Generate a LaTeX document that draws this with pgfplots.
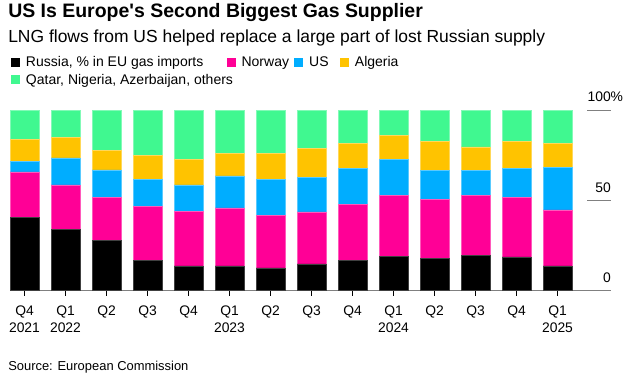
\documentclass[border=0pt]{standalone}
\usepackage{fontspec}
\setmainfont{Liberation Sans}[Ligatures=TeXOff]
\usepackage{pgfplots}
\usepackage{pgfplotstable}
\pgfplotsset{compat=1.18}
\definecolor{cRus}{HTML}{000000}
\definecolor{cNor}{HTML}{FF0096}
\definecolor{cUS}{HTML}{00ADFF}
\definecolor{cAlg}{HTML}{FFC300}
\definecolor{cOth}{HTML}{40F890}
\definecolor{axgray}{HTML}{808080}

\pgfplotstableread{
x rus nor us alg oth
0 40.8 25.1 5.9 12.0 16.2
1 33.8 24.9 14.9 11.3 15.1
2 27.7 24.1 15.2 10.9 22.1
3 16.8 30.1 14.9 13.1 25.1
4 13.8 30.1 14.8 14.0 27.3
5 13.8 32.1 17.8 12.3 24.0
6 12.7 29.0 20.1 14.2 24.0
7 14.9 28.8 19.0 16.1 21.2
8 16.8 31.0 19.9 14.0 18.3
9 19.0 33.8 19.9 13.3 14.0
10 17.7 33.0 16.1 15.9 17.3
11 19.7 33.1 14.0 12.9 20.3
12 18.8 32.9 16.0 15.0 17.3
13 13.8 31.0 23.8 13.1 18.3
}\datatable

\begin{document}
\begin{tikzpicture}
\useasboundingbox (0,0) rectangle (473.25pt,283.5pt);
% Title and subtitle
\node[anchor=base west, inner sep=0] at (6pt,270.5pt) {\fontsize{14.6}{17}\selectfont\bfseries US Is Europe's Second Biggest Gas Supplier};
\node[anchor=base west, inner sep=0] at (6pt,251.8pt) {\fontsize{13.1}{15}\selectfont LNG flows from US helped replace a large part of lost Russian supply};
% Legend
\def\legfont{\fontsize{10.5}{12}\selectfont}
\fill[cRus] (8.25pt,233.6pt) rectangle ++(6.75pt,6.75pt);
\node[anchor=base west, inner sep=0] at (19.3pt,233.5pt) {\legfont Russia, \% in EU gas imports};
\fill[cNor] (170pt,233.6pt) rectangle ++(6.75pt,6.75pt);
\node[anchor=base west, inner sep=0] at (181pt,233.5pt) {\legfont Norway};
\fill[cUS] (220.7pt,233.6pt) rectangle ++(6.75pt,6.75pt);
\node[anchor=base west, inner sep=0] at (231.7pt,233.5pt) {\legfont US};
\fill[cAlg] (255pt,233.6pt) rectangle ++(6.75pt,6.75pt);
\node[anchor=base west, inner sep=0] at (266pt,233.5pt) {\legfont Algeria};
\fill[cOth] (8.25pt,220.3pt) rectangle ++(6.75pt,6.75pt);
\node[anchor=base west, inner sep=0] at (19.3pt,220.2pt) {\legfont Qatar, Nigeria, Azerbaijan, others};
% Source
\node[anchor=base west, inner sep=0] at (6pt,5.5pt) {\fontsize{9.7}{11}\selectfont Source: European Commission};

\begin{axis}[
  at={(7.5pt,65.5pt)}, anchor=south west,
  scale only axis, width=450.75pt, height=135.2pt,
  xmin=-0.35366, xmax=14.3049, ymin=0, ymax=100,
  clip=false,
  ybar stacked, bar width=0.707,
  axis x line*=bottom, axis y line=none,
  x axis line style={draw=axgray, line width=1pt},
  xtick={0,...,13},
  xticklabels={{Q4\\2021},{Q1\\2022},Q2,Q3,Q4,{Q1\\2023},Q2,Q3,Q4,{Q1\\2024},Q2,Q3,Q4,{Q1\\2025}},
  xticklabel style={align=center, font=\fontsize{10.4}{13}\selectfont, anchor=north, inner sep=0pt, yshift=-7.5pt},
  xtick align=outside, major tick length=3.75pt,
  x tick style={black, line width=0.75pt},
  ytick=\empty,
]
\addplot[fill=cRus, draw=black!75!white, line width=0.4pt] table[x=x, y=rus] {\datatable};
\addplot[fill=cNor, draw=cNor!65!white, line width=0.4pt] table[x=x, y=nor] {\datatable};
\addplot[fill=cUS, draw=cUS!65!white, line width=0.4pt] table[x=x, y=us] {\datatable};
\addplot[fill=cAlg, draw=cAlg!65!white, line width=0.4pt] table[x=x, y=alg] {\datatable};
\addplot[fill=cOth, draw=cOth!65!white, line width=0.4pt] table[x=x, y=oth] {\datatable};
\draw[axgray, line width=1pt] (axis cs:13.72,50) -- (axis cs:14.3049,50);
\draw[axgray, line width=1pt] (axis cs:13.72,100) -- (axis cs:14.3049,100);
\node[anchor=base east, inner sep=0, font=\fontsize{10.4}{12}\selectfont] at (axis cs:14.3049,100) [yshift=6.3pt] {100\rlap{\%}};
\node[anchor=base east, inner sep=0, font=\fontsize{10.4}{12}\selectfont] at (axis cs:14.3049,50) [yshift=6.3pt] {50};
\node[anchor=base east, inner sep=0, font=\fontsize{10.4}{12}\selectfont] at (axis cs:14.3049,0) [yshift=6.3pt] {0};
\end{axis}
\end{tikzpicture}
\end{document}
